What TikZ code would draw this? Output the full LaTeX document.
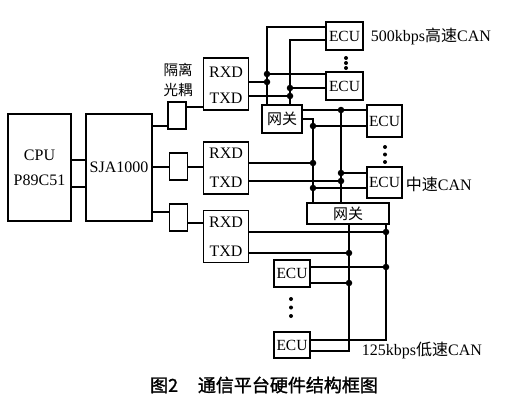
\documentclass[tikz,border=0pt]{standalone}
\usepackage{fontspec}
\setmainfont{Liberation Serif}
\newfontfamily\cjk{Noto Sans CJK SC}
\newfontfamily\capfont{Noto Sans CJK SC}[FakeBold=1.5]
\begin{document}
\begin{tikzpicture}[x=1pt,y=-1pt,line width=1.8pt,
  box/.style={draw,inner sep=0pt,font=\fontsize{16}{25}\selectfont,align=center},
  ecu/.style={box,minimum width=37pt,minimum height=28pt,font=\fontsize{15.5}{17}\selectfont},
  opto/.style={draw,inner sep=0pt,minimum width=18pt,minimum height=27pt},
  rtbox/.style={draw,inner sep=0pt,minimum width=45pt,minimum height=52pt},
  gw/.style={draw,inner sep=0pt,font=\cjk\fontsize{15}{16}\selectfont},
  lbl/.style={inner sep=0pt,font=\fontsize{16}{18}\selectfont},
  cjklbl/.style={inner sep=0pt,font=\cjk\fontsize{14.5}{16}\selectfont},
  jdot/.style={circle,fill,inner sep=0pt,minimum size=6.5pt},
  edot/.style={circle,fill,inner sep=0pt,minimum size=4pt}]
\fill[white] (0,0) rectangle (520,415);
\useasboundingbox (0,0) rectangle (520,415);
% main blocks
\node[box,minimum width=63pt,minimum height=107pt] (cpu) at (39.5,167.5) {CPU\\P89C51};
\node[box,minimum width=66pt,minimum height=107pt] (sja) at (119,167.5) {SJA1000};
\draw (cpu.east |- 0,160) -- (sja.west |- 0,160);
\draw (cpu.east |- 0,187) -- (sja.west |- 0,187);
% opto couplers
\node[cjklbl] (iso1) at (178,70) {隔离};
\node[cjklbl] (iso2) at (178,90) {光耦};
\node[opto] (op1) at (177,115.5) {};
\node[opto] (op2) at (178.5,166.5) {};
\node[opto] (op3) at (178.5,217.5) {};
\node[rtbox] (rt1) at (226,84) {};
\node[rtbox] (rt2) at (226,168) {};
\node[rtbox] (rt3) at (226,236.5) {};
\node[lbl] (r1) at (226,72) {RXD};
\node[lbl] (t1) at (226,98) {TXD};
\node[lbl] (r2) at (226,153) {RXD};
\node[lbl] (t2) at (226,182) {TXD};
\node[lbl] (r3) at (226,222) {RXD};
\node[lbl] (t3) at (226,251) {TXD};
\draw (sja.east |- 0,126) -- (op1.west |- 0,126);
\draw (op1.east |- 0,107) -- (rt1.west |- 0,107);
\draw (sja.east |- 0,167) -- (op2.west |- 0,167);
\draw (op2.east |- 0,167) -- (rt2.west |- 0,167);
\draw (sja.east |- 0,212) -- (op3.west |- 0,212);
\draw (op3.east |- 0,223) -- (rt3.west |- 0,223);
% ECUs and gateways
\node[ecu] (ecu1) at (344.5,36) {ECU};
\node[ecu] (ecu2) at (344.5,86) {ECU};
\node[ecu,minimum width=35pt,minimum height=32pt] (ecu3) at (384.5,121) {ECU};
\node[ecu,minimum width=35pt,minimum height=31pt] (ecu4) at (384.5,182.5) {ECU};
\node[ecu,minimum width=36pt,minimum height=27pt] (ecu5) at (292,273.5) {ECU};
\node[ecu,minimum width=36pt,minimum height=26pt] (ecu6) at (292,345) {ECU};
\node[gw,minimum width=40pt,minimum height=28pt] (gw1) at (282,119) {网关};
\node[gw,minimum width=82pt,minimum height=21pt] (gw2) at (348,213.5) {网关};
% high-speed bus
\coordinate (hA) at (267,27);
\coordinate (hB) at (290,40);
\draw (gw1.north -| hA) -- (hA) -- (ecu1.west |- hA);
\draw (gw1.north -| hB) -- (hB) -- (ecu1.west |- hB);
\coordinate (j1) at (267,74);
\coordinate (j2) at (267,82);
\coordinate (j3) at (290,88);
\coordinate (j4) at (290,96);
\draw (j1) -- (ecu2.west |- j1);
\draw (rt1.east |- j2) -- (j2);
\draw (j3) -- (ecu2.west |- j3);
\draw (rt1.east |- j4) -- (j4);
% medium-speed bus
\coordinate (mA) at (341,110);
\coordinate (mB) at (313,119);
\draw (gw1.east |- mA) -- (ecu3.west |- mA);
\draw (mA) -- (gw2.north -| mA);
\draw (gw1.east |- mB) -- (mB) -- (gw2.north -| mB);
\coordinate (j5) at (313,126);
\coordinate (j6) at (313,163);
\coordinate (j7) at (341,173);
\coordinate (j8) at (341,181);
\coordinate (j9) at (313,188);
\draw (j5) -- (ecu3.west |- j5);
\draw (rt2.east |- j6) -- (j6);
\draw (j7) -- (ecu4.west |- j7);
\draw (rt2.east |- j8) -- (j8);
\draw (j9) -- (ecu4.west |- j9);
% low-speed bus
\coordinate (lA) at (349,351);
\coordinate (lB) at (386,340);
\draw (gw2.south -| lA) -- (lA) -- (ecu6.east |- lA);
\draw (gw2.south -| lB) -- (lB) -- (ecu6.east |- lB);
\coordinate (j10) at (386,232);
\coordinate (j11) at (349,253);
\coordinate (j12) at (386,267);
\coordinate (j13) at (349,283);
\draw (rt3.east |- j10) -- (j10);
\draw (rt3.east |- j11) -- (j11);
\draw (j12) -- (ecu5.east |- j12);
\draw (j13) -- (ecu5.east |- j13);
% junction dots
\foreach \p [count=\i] in {j1,j2,j3,j4,mA,j5,j6,j7,j8,j9,j10,j11,j12,j13}
  \node[jdot] (dot\i) at (\p) {};
% ellipsis dots
\foreach \yy [count=\i] in {58,63,68} \node[edot] (eh\i) at (346,\yy) {};
\foreach \yy [count=\i] in {147,154.5,162} \node[edot] (em\i) at (385,\yy) {};
\foreach \yy [count=\i] in {299,307.5,316} \node[edot] (el\i) at (291,\yy) {};
% bus labels
\node[lbl,anchor=west] (hs) at (370,36) {500kbps{\cjk 高速}CAN};
\node[lbl,anchor=west] (ms) at (405,184) {{\cjk 中速}CAN};
\node[lbl,anchor=west] (ls) at (361,350) {125kbps{\cjk 低速}CAN};
% caption
\node[inner sep=0pt,font=\capfont\fontsize{18}{20}\selectfont] (cap) at (264,385) {图2\hspace{1.1em}通信平台硬件结构框图};
\end{tikzpicture}
\end{document}
